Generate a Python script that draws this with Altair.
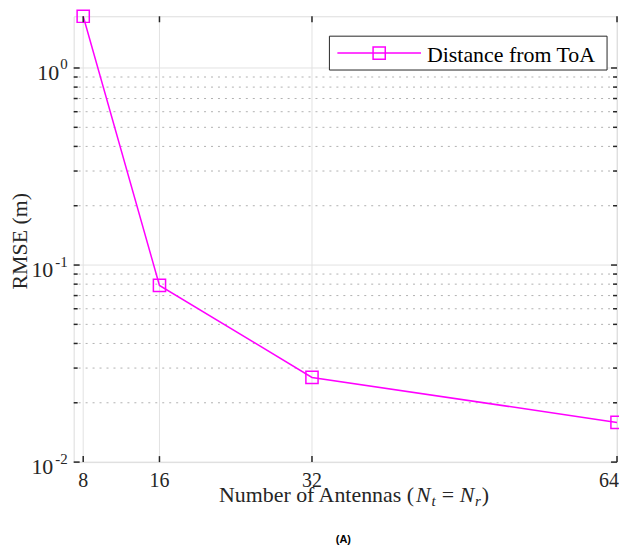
import altair as alt
import pandas as pd

# ---- data ----
antennas = [8, 16, 32, 64]
rmse = [1.83, 0.0788, 0.0269, 0.0159]
series_name = "Distance from ToA"
x_ticks = [8, 16, 32, 64]
x_tick_labels = ["8", "16", "32", "64"]
y_major = [0.01, 0.1, 1]
y_major_exp = ["-2", "-1", "0"]
y_minor = [0.02, 0.03, 0.04, 0.05, 0.06, 0.07, 0.08, 0.09,
           0.2, 0.3, 0.4, 0.5, 0.6, 0.7, 0.8, 0.9]

W, H = 546, 448
MAGENTA = "#ff00ff"
INK = "#262626"
SERIF = "Times New Roman, Liberation Serif, serif"

df = pd.DataFrame({"N": antennas, "rmse": rmse})
dmaj = pd.DataFrame({"v": y_major, "exp": y_major_exp})
dmin = pd.DataFrame({"v": y_minor})
dx = pd.DataFrame({"N": x_ticks, "lab": x_tick_labels})
one = pd.DataFrame({"k": [0]})

xs = alt.Scale(domain=[7, 64], nice=False, zero=False)
ys = alt.Scale(type="log", domain=[0.01, 1.83], nice=False)

X = lambda f: alt.X(f, scale=xs, axis=None)
Y = lambda f: alt.Y(f, scale=ys, axis=None)

# grids
minor_grid = alt.Chart(dmin).mark_rule(color="#b0b0b0", strokeWidth=1, strokeDash=[2, 5]).encode(
    y=Y("v:Q"))
major_grid_y = alt.Chart(dmaj).mark_rule(color="#e2e2e2", strokeWidth=1).encode(y=Y("v:Q"))
major_grid_x = alt.Chart(dx).mark_rule(color="#e2e2e2", strokeWidth=1).encode(x=X("N:Q"))

# data
line = alt.Chart(df).mark_line(color=MAGENTA, strokeWidth=1.5).encode(
    x=X("N:Q"), y=Y("rmse:Q"))
points = alt.Chart(df).mark_point(shape="square", size=150, filled=False,
                                  color=MAGENTA, strokeWidth=1.5, opacity=1).encode(
    x=X("N:Q"), y=Y("rmse:Q"))

# inward ticks on all four sides
def vtick(data, x0, x1):
    return alt.Chart(data).mark_rule(color=INK, strokeWidth=1.5).encode(
        y=Y("v:Q"), x=alt.value(x0), x2=alt.value(x1))

ticks = [
    vtick(dmaj, 0, 6), vtick(dmaj, W, W - 6),
    vtick(dmin, 0, 4), vtick(dmin, W, W - 4),
    alt.Chart(dx).mark_rule(color=INK, strokeWidth=1.5).encode(
        x=X("N:Q"), y=alt.value(H), y2=alt.value(H - 6)),
    alt.Chart(dx).mark_rule(color=INK, strokeWidth=1.5).encode(
        x=X("N:Q"), y=alt.value(0), y2=alt.value(6)),
]

# x tick labels (the last one is kept inside the figure, as in the reference)
xlab_a = alt.Chart(dx).transform_filter(alt.datum.lab != "64").mark_text(
    align="center", baseline="alphabetic", font=SERIF, fontSize=20, color=INK).encode(
    x=X("N:Q"), y=alt.value(H + 25), text="lab:N")
xlab_b = alt.Chart(dx).transform_filter(alt.datum.lab == "64").mark_text(
    align="center", baseline="alphabetic", dx=-8, font=SERIF, fontSize=20, color=INK).encode(
    x=X("N:Q"), y=alt.value(H + 25), text="lab:N")

# y tick labels 10^k
ten_a = alt.Chart(dmaj).transform_filter(alt.datum.exp == "0").mark_text(
    align="right", baseline="alphabetic", dy=12, font=SERIF, fontSize=22, color=INK).encode(
    y=Y("v:Q"), x=alt.value(-14.5), text=alt.value("10"))
ten_b = alt.Chart(dmaj).transform_filter(alt.datum.exp != "0").mark_text(
    align="right", baseline="alphabetic", dy=12, font=SERIF, fontSize=22, color=INK).encode(
    y=Y("v:Q"), x=alt.value(-20.5), text=alt.value("10"))
sup = alt.Chart(dmaj).mark_text(
    align="right", baseline="alphabetic", dy=1.5, font=SERIF, fontSize=15, color=INK).encode(
    y=Y("v:Q"), x=alt.value(-6), text="exp:N")

# y title
ytitle = alt.Chart(one).mark_text(angle=270, align="center", baseline="middle",
                                  font=SERIF, fontSize=22, color=INK).encode(
    x=alt.value(-54), y=alt.value(226), text=alt.value("RMSE (m)"))

# x title pieces: Number of Antennas (N_t = N_r)
def seg(txt, x, y, size=22, italic=False, align="left"):
    return alt.Chart(one).mark_text(align=align, baseline="alphabetic", font=SERIF,
                                    fontSize=size, fontStyle="italic" if italic else "normal",
                                    color=INK).encode(
        x=alt.value(x), y=alt.value(y), text=alt.value(txt))

TB = 488.5
xt = [
    seg("Number of Antennas (", 342, TB, align="right"),
    seg("N", 344, TB, italic=True),
    seg("t", 359.5, TB + 4, size=15, italic=True),
    seg("=", 376, TB, align="center"),
    seg("N", 388, TB, italic=True),
    seg("r", 403.2, TB + 4, size=15, italic=True),
    seg(")", 410, TB),
]

# legend
leg_box = alt.Chart(one).mark_rect(fill="white", stroke=INK, strokeWidth=1).encode(
    x=alt.value(257), x2=alt.value(536), y=alt.value(20), y2=alt.value(54))
leg_line = alt.Chart(one).mark_rule(color=MAGENTA, strokeWidth=1.5).encode(
    x=alt.value(265), x2=alt.value(349), y=alt.value(37))
leg_pt = alt.Chart(one).mark_point(shape="square", size=150, filled=False,
                                   color=MAGENTA, strokeWidth=1.5, opacity=1).encode(
    x=alt.value(307), y=alt.value(37))
leg_txt = alt.Chart(one).mark_text(align="left", baseline="alphabetic", font=SERIF,
                                   fontSize=22, color="black").encode(
    x=alt.value(355), y=alt.value(45.7), text=alt.value(series_name))

caption = alt.Chart(one).mark_text(align="center", baseline="alphabetic",
                                   font="Liberation Sans, Arial, sans-serif", fontSize=11,
                                   fontWeight="bold", color="black").encode(
    x=alt.value(271), y=alt.value(529.5), text=alt.value("(A)"))

chart = alt.layer(
    major_grid_x, major_grid_y, minor_grid, line, points,
    *ticks, xlab_a, xlab_b, ten_a, ten_b, sup, ytitle, *xt,
    leg_box, leg_line, leg_pt, leg_txt, caption,
).properties(
    width=W, height=H,
    padding={"left": 66, "top": 7, "right": 2, "bottom": 84},
    autosize=alt.AutoSizeParams(type="none"),
).configure_view(stroke=INK, strokeWidth=2).configure(background="white")

chart.save("out.html", embed_options={"renderer": "svg", "actions": False})
